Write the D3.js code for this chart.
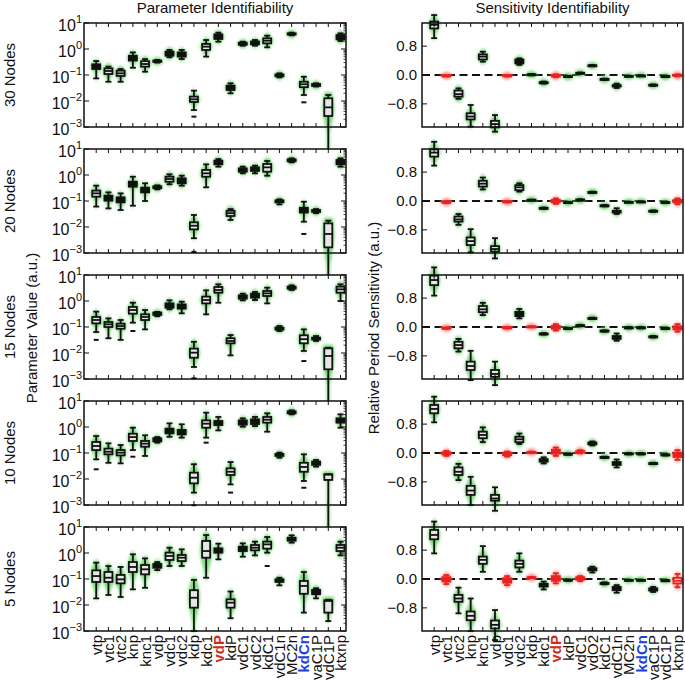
<!DOCTYPE html>
<html><head><meta charset="utf-8">
<script src="https://cdn.jsdelivr.net/npm/d3@7"></script>
<style>body{margin:0;background:#fff}svg{display:block}text{font-family:"Liberation Sans",Arial,sans-serif;fill:#111}</style>
</head><body><svg id="c" width="685" height="682"></svg>
<script>
// ---------------- data ----------------
const categoriesLeft = ["vtp","vtc1","vtc2","knp","knc1","vdp","vdc1","vdc2","kdp","kdc1","vdP","kdP","vdC1","vdC2","kdC1","vdC1n","MC2n","kdCn","vaC1P","vdC1P","ktxnp"];
const categoriesRight = ["vtp","vtc1","vtc2","knp","knc1","vdp","vdc1","vdc2","kdp","kdc1","vdP","kdP","vdC1","vdO2","kdC1","vdC1n","MC2n","kdCn","vaC1P","vdC1P","ktxnp"];
const rowLabels = ["30 Nodes","20 Nodes","15 Nodes","10 Nodes","5 Nodes"];
const logTickExps = [-3,-2,-1,0,1];
const sensTicks = [-0.8,0.0,0.8];
const sensTickLabels = ["\u22120.8","0.0","0.8"];

// box stats per category: [lowWhisker, q1, median, q3, highWhisker]
const param30 = [[0.074,0.17,0.21,0.257,0.345],[0.055,0.109,0.143,0.18,0.21],[0.055,0.092,0.116,0.147,0.17],[0.19,0.36,0.45,0.55,0.74],[0.134,0.21,0.265,0.34,0.41],[0.30,0.32,0.34,0.36,0.38],[0.48,0.55,0.68,0.79,0.92],[0.41,0.51,0.62,0.74,0.92],[0.0045,0.0092,0.0116,0.0147,0.025],[0.51,0.92,1.23,1.56,2.22],[1.91,2.43,2.98,3.66,4.25],[0.0197,0.0265,0.033,0.039,0.048],[1.34,1.45,1.60,1.75,1.91],[1.34,1.5,1.75,1.95,2.22],[1.16,1.65,2.09,2.57,3.26],[0.081,0.089,0.097,0.105,0.116],[3.36,3.6,3.8,4.0,4.25],[0.017,0.034,0.044,0.055,0.086],[0.036,0.038,0.041,0.045,0.048],[0.0001,0.00265,0.0057,0.0127,0.017],[2.03,2.35,2.81,3.45,4.0]];
const param20 = [[0.061,0.147,0.197,0.25,0.39],[0.052,0.103,0.134,0.16,0.215],[0.045,0.089,0.109,0.138,0.197],[0.066,0.356,0.45,0.55,0.86],[0.1,0.215,0.265,0.326,0.48],[0.28,0.31,0.336,0.37,0.40],[0.44,0.55,0.70,0.86,1.06],[0.39,0.48,0.6,0.74,0.94],[0.0037,0.0081,0.0112,0.0151,0.029],[0.336,0.86,1.16,1.56,2.57],[2.09,2.57,3.07,3.56,4.1],[0.0186,0.0265,0.034,0.042,0.049],[1.16,1.34,1.56,1.8,2.09],[1.16,1.43,1.70,1.97,2.29],[0.94,1.34,1.97,2.65,3.45],[0.074,0.089,0.097,0.106,0.116],[3.07,3.36,3.66,4.0,4.37],[0.016,0.036,0.044,0.055,0.094],[0.034,0.038,0.041,0.045,0.049],[0.0001,0.00165,0.0054,0.0138,0.0175],[2.09,2.57,3.07,3.78,4.37]];
const param15 = [[0.064,0.138,0.186,0.243,0.39],[0.037,0.1,0.127,0.156,0.215],[0.032,0.086,0.109,0.134,0.186],[0.147,0.326,0.45,0.59,0.86],[0.081,0.186,0.243,0.307,0.45],[0.26,0.29,0.33,0.36,0.38],[0.48,0.55,0.68,0.81,1.06],[0.336,0.51,0.6,0.74,0.94],[0.0029,0.0066,0.0103,0.0147,0.027],[0.307,0.81,1.09,1.47,2.57],[0.86,2.09,2.65,3.45,4.37],[0.0081,0.0236,0.029,0.037,0.049],[1.06,1.23,1.43,1.65,1.91],[1.09,1.34,1.65,1.91,2.22],[0.81,1.56,1.97,2.43,3.26],[0.070,0.079,0.086,0.095,0.109],[2.65,2.98,3.26,3.56,4.0],[0.012,0.0236,0.034,0.048,0.081],[0.029,0.033,0.036,0.039,0.045],[0.0001,0.00236,0.0077,0.0151,0.016],[1.0,2.09,2.81,3.56,4.37]];
const param10 = [[0.057,0.13,0.186,0.265,0.45],[0.042,0.089,0.112,0.147,0.236],[0.04,0.081,0.103,0.13,0.203],[0.13,0.29,0.41,0.55,0.94],[0.077,0.175,0.229,0.29,0.48],[0.25,0.28,0.316,0.37,0.41],[0.42,0.57,0.70,0.86,1.38],[0.39,0.52,0.64,0.77,1.27],[0.003,0.0068,0.0112,0.0175,0.037],[0.39,0.94,1.34,1.8,3.56],[0.74,1.19,1.43,1.70,2.43],[0.0062,0.0143,0.019,0.0257,0.045],[1.03,1.23,1.47,1.8,2.15],[1.09,1.3,1.6,1.97,2.43],[0.66,1.47,1.91,2.43,3.36],[0.066,0.077,0.084,0.092,0.103],[3.07,3.36,3.66,4.0,4.37],[0.0084,0.019,0.029,0.042,0.089],[0.030,0.035,0.04,0.047,0.054],[0.0001,0.0092,0.0148,0.0151,0.0151],[0.94,1.47,1.8,2.15,3.07]];
const param5 = [[0.018,0.077,0.13,0.215,0.425],[0.0243,0.077,0.112,0.186,0.316],[0.0203,0.068,0.097,0.143,0.29],[0.040,0.186,0.29,0.45,0.89],[0.046,0.151,0.236,0.345,0.62],[0.22,0.27,0.316,0.38,0.45],[0.316,0.54,0.77,1.03,1.6],[0.316,0.49,0.66,0.84,1.38],[0.001,0.0079,0.019,0.037,0.092],[0.112,0.66,1.19,2.9,4.9],[0.57,1.03,1.27,1.51,2.29],[0.0031,0.0079,0.0123,0.0165,0.033],[0.72,1.19,1.47,1.75,2.35],[0.81,1.27,1.6,2.03,2.73],[1.03,1.47,2.15,2.73,4.12],[0.057,0.077,0.089,0.097,0.112],[2.5,2.98,3.36,3.89,4.78],[0.0051,0.027,0.054,0.084,0.186],[0.018,0.026,0.033,0.038,0.044],[0.0024,0.0051,0.0143,0.0152,0.016],[0.81,1.19,1.6,2.03,2.73]];
// outliers: [row, category, value]
const paramOutliers = [[0,8,0.0025],[0,17,0.0089],[1,8,0.0011],[1,17,0.0054],[2,0,0.032],[2,3,0.07],[2,8,0.00106],[2,17,0.0049],[3,0,0.0236],[3,3,0.072],[3,8,0.00098],[3,9,0.25],[3,11,0.003],[3,17,0.0046],[4,14,0.316]];

const sens30 = [[1.02,1.29,1.39,1.48,1.66],[-0.04,-0.03,-0.02,-0.01,0.0],[-0.66,-0.60,-0.53,-0.43,-0.37],[-1.43,-1.23,-1.15,-1.06,-0.83],[0.37,0.43,0.51,0.57,0.645],[-1.57,-1.45,-1.36,-1.27,-1.11],[-0.04,-0.03,-0.02,-0.01,0.0],[0.28,0.32,0.38,0.43,0.46],[-0.01,0.0,0.01,0.02,0.03],[-0.24,-0.22,-0.21,-0.20,-0.18],[-0.06,-0.04,-0.02,0.0,0.02],[-0.06,-0.05,-0.04,-0.03,-0.02],[0.03,0.04,0.05,0.06,0.07],[0.24,0.25,0.26,0.27,0.28],[-0.14,-0.13,-0.12,-0.11,-0.10],[-0.36,-0.32,-0.30,-0.28,-0.24],[-0.04,-0.035,-0.03,-0.025,-0.02],[-0.03,-0.025,-0.02,-0.015,-0.01],[-0.30,-0.29,-0.28,-0.27,-0.26],[-0.06,-0.05,-0.04,-0.03,-0.02],[-0.04,-0.02,-0.01,0.0,0.02]];
const sens20 = [[0.98,1.23,1.34,1.43,1.64],[-0.06,-0.04,-0.03,-0.02,0.0],[-0.66,-0.57,-0.51,-0.43,-0.36],[-1.42,-1.22,-1.11,-1.01,-0.78],[0.32,0.40,0.48,0.56,0.65],[-1.59,-1.40,-1.33,-1.25,-1.03],[-0.04,-0.03,-0.02,-0.01,0.0],[0.26,0.30,0.38,0.44,0.49],[0.01,0.02,0.03,0.035,0.04],[-0.22,-0.21,-0.2,-0.19,-0.18],[-0.08,-0.04,0.0,0.03,0.07],[-0.06,-0.05,-0.04,-0.03,-0.02],[0.01,0.02,0.03,0.04,0.05],[0.22,0.23,0.24,0.25,0.26],[-0.15,-0.14,-0.13,-0.12,-0.11],[-0.36,-0.32,-0.30,-0.27,-0.20],[-0.04,-0.035,-0.03,-0.025,-0.02],[-0.03,-0.025,-0.02,-0.015,-0.01],[-0.30,-0.29,-0.28,-0.27,-0.26],[-0.06,-0.05,-0.04,-0.03,-0.02],[-0.09,-0.04,-0.01,0.03,0.07]];
const sens15 = [[0.87,1.16,1.30,1.42,1.65],[-0.05,-0.04,-0.03,-0.02,-0.01],[-0.68,-0.59,-0.50,-0.41,-0.33],[-1.47,-1.19,-1.08,-0.96,-0.66],[0.33,0.41,0.49,0.58,0.67],[-1.61,-1.38,-1.30,-1.19,-0.96],[-0.04,-0.03,-0.02,-0.01,0.0],[0.24,0.30,0.37,0.42,0.50],[0.0,0.005,0.01,0.015,0.02],[-0.21,-0.2,-0.19,-0.18,-0.17],[-0.1,-0.05,-0.01,0.03,0.08],[-0.06,-0.05,-0.04,-0.03,-0.02],[0.02,0.03,0.04,0.05,0.06],[0.22,0.23,0.24,0.25,0.26],[-0.13,-0.12,-0.11,-0.10,-0.09],[-0.38,-0.33,-0.29,-0.25,-0.18],[-0.04,-0.03,-0.02,-0.01,0.0],[-0.04,-0.03,-0.02,-0.01,0.0],[-0.29,-0.28,-0.27,-0.26,-0.25],[-0.06,-0.05,-0.04,-0.03,-0.02],[-0.13,-0.07,-0.03,0.02,0.08]];
const sens10 = [[0.85,1.10,1.22,1.33,1.56],[-0.08,-0.04,-0.01,0.02,0.06],[-0.75,-0.61,-0.52,-0.40,-0.30],[-1.44,-1.16,-1.04,-0.91,-0.66],[0.30,0.41,0.50,0.59,0.71],[-1.6,-1.32,-1.26,-1.16,-0.95],[-0.1,-0.06,-0.03,0.01,0.04],[0.25,0.30,0.38,0.45,0.54],[0.0,0.01,0.02,0.03,0.04],[-0.29,-0.24,-0.21,-0.17,-0.12],[-0.08,-0.02,0.05,0.09,0.15],[-0.05,-0.04,-0.03,-0.02,-0.01],[-0.01,0.02,0.04,0.05,0.08],[0.21,0.24,0.27,0.29,0.32],[-0.14,-0.13,-0.12,-0.11,-0.10],[-0.40,-0.33,-0.29,-0.25,-0.18],[-0.04,-0.03,-0.02,-0.01,0.0],[-0.04,-0.03,-0.02,-0.01,0.0],[-0.31,-0.30,-0.29,-0.28,-0.27],[-0.07,-0.06,-0.05,-0.04,-0.03],[-0.19,-0.11,-0.05,0.01,0.08]];
const sens5 = [[0.71,1.10,1.22,1.36,1.59],[-0.14,-0.07,0.0,0.05,0.11],[-0.95,-0.63,-0.54,-0.44,-0.24],[-1.44,-1.14,-1.02,-0.90,-0.54],[0.20,0.42,0.53,0.62,0.91],[-1.69,-1.37,-1.27,-1.15,-0.86],[-0.17,-0.1,-0.05,0.02,0.08],[0.20,0.32,0.42,0.51,0.71],[0.02,0.03,0.04,0.05,0.06],[-0.29,-0.21,-0.17,-0.13,-0.07],[-0.12,-0.05,0.02,0.08,0.16],[-0.05,-0.04,-0.03,-0.02,-0.01],[-0.06,-0.02,0.02,0.05,0.08],[0.18,0.24,0.27,0.30,0.34],[-0.15,-0.13,-0.12,-0.11,-0.09],[-0.38,-0.31,-0.26,-0.22,-0.17],[-0.04,-0.035,-0.03,-0.025,-0.02],[-0.04,-0.035,-0.03,-0.025,-0.02],[-0.36,-0.32,-0.29,-0.26,-0.22],[-0.05,-0.045,-0.04,-0.035,-0.03],[-0.23,-0.12,-0.05,0.03,0.14]];
// categories drawn in red (non-significant sensitivity) per row
const sensRed = [[1,6,10,20],[1,6,10,20],[1,6,8,10,20],[1,6,8,10,12,20],[1,6,8,10,12,20]];

const paramRows = [param30,param20,param15,param10,param5];
const sensRows = [sens30,sens20,sens15,sens10,sens5];

// ---------------- layout ----------------
const svg = d3.select("#c");
const panelTop = i => 23 + 126*i, panelH = 104;
const LX = [84,346], RX = [422,683];
const xL = d3.scaleLinear().domain([-1,20.45]).range(LX);
const xR = d3.scaleLinear().domain([-1,20.45]).range(RX);
const BLACK = "#111", RED = "#e8231f";

const defs = svg.append("defs");
defs.append("filter").attr("id","blur").attr("x","-200%").attr("y","-50%").attr("width","500%").attr("height","200%")
  .append("feGaussianBlur").attr("stdDeviation",1.4);

function violin(g, xc, y, s, fill){
  const [lo,q1,md,q3,hi] = s;
  const yTop = y(hi)-3, yBot = y(lo)+3, ym = y(md);
  const sd = Math.max(2.5, (y(q1)-y(q3))*0.85);
  const n = 60, pts = [];
  for(let k=0;k<=n;k++){
    const t = yTop + (yBot-yTop)*k/n;
    let hw = 6*Math.exp(-0.5*Math.pow((t-ym)/sd,2));
    if(t>=y(hi) && t<=y(lo)) hw = Math.max(hw,1.4);
    else hw = Math.max(hw,0.5);
    pts.push([t,hw]);
  }
  g.append("path").datum(pts)
    .attr("d", d3.area().y(d=>d[0]).x0(d=>xc-d[1]).x1(d=>xc+d[1]).curve(d3.curveBasis))
    .attr("fill", fill).attr("opacity",0.85).attr("filter","url(#blur)");
}

function boxplot(g, xc, y, s, color){
  const [lo,q1,md,q3,hi] = s;
  const bw = 4, cw = 3, sw = 1.8;
  const gg = g.append("g").attr("stroke",color).attr("stroke-width",sw);
  gg.append("line").attr("x1",xc).attr("x2",xc).attr("y1",y(q3)).attr("y2",y(hi));
  gg.append("line").attr("x1",xc).attr("x2",xc).attr("y1",y(q1)).attr("y2",y(lo));
  gg.append("line").attr("x1",xc-cw).attr("x2",xc+cw).attr("y1",y(hi)).attr("y2",y(hi));
  gg.append("line").attr("x1",xc-cw).attr("x2",xc+cw).attr("y1",y(lo)).attr("y2",y(lo));
  const h = y(q1)-y(q3);
  gg.append("rect").attr("x",xc-bw).attr("width",2*bw).attr("y",y(q3)).attr("height",Math.max(1,h))
    .attr("fill", h < 5 ? color : "#e6e6e6");
  gg.append("line").attr("x1",xc-bw).attr("x2",xc+bw).attr("y1",y(md)).attr("y2",y(md));
}

function xTicks(g, x, top){
  d3.range(21).forEach(i=>{
    g.append("line").attr("x1",x(i)).attr("x2",x(i)).attr("y1",top).attr("y2",top+4).attr("stroke",BLACK).attr("stroke-width",1);
    g.append("line").attr("x1",x(i)).attr("x2",x(i)).attr("y1",top+panelH).attr("y2",top+panelH-4).attr("stroke",BLACK).attr("stroke-width",1);
  });
}

function frame(g, X, top){
  g.append("rect").attr("x",X[0]).attr("y",top).attr("width",X[1]-X[0]).attr("height",panelH)
    .attr("fill","none").attr("stroke",BLACK).attr("stroke-width",1.5);
}

rowLabels.forEach((lab,i)=>{
  const top = panelTop(i);
  // ---------- left: parameter values ----------
  const y = d3.scaleLog().domain([1e-3,1e1]).range([top+panelH, top]);
  const gl = svg.append("g");
  gl.append("rect").attr("x",LX[0]).attr("y",top).attr("width",LX[1]-LX[0]).attr("height",panelH).attr("fill","#fff");
  paramRows[i].forEach((s,j)=> violin(gl, xL(j), y, s, "#5fd35f"));
  paramRows[i].forEach((s,j)=> boxplot(gl, xL(j), y, s, BLACK));
  paramOutliers.filter(o=>o[0]===i).forEach(o=>{
    gl.append("line").attr("x1",xL(o[1])-2.5).attr("x2",xL(o[1])+2.5).attr("y1",y(o[2])).attr("y2",y(o[2]))
      .attr("stroke",BLACK).attr("stroke-width",2);
  });
  frame(gl, LX, top);
  xTicks(gl, xL, top);
  logTickExps.forEach(e=>{
    const v = Math.pow(10,e), yy = y(v);
    gl.append("line").attr("x1",LX[0]).attr("x2",LX[0]+5).attr("y1",yy).attr("y2",yy).attr("stroke",BLACK);
    gl.append("line").attr("x1",LX[1]).attr("x2",LX[1]-5).attr("y1",yy).attr("y2",yy).attr("stroke",BLACK);
    const t = gl.append("text").attr("x",82).attr("y",yy+7.5).attr("text-anchor","end").attr("font-size",16);
    t.append("tspan").text("10");
    t.append("tspan").attr("dy",-7.5).attr("font-size",11).text(String(e).replace("-","\u2212"));
    if(e<1) d3.range(2,10).forEach(m=>{
      const ym = y(m*v);
      gl.append("line").attr("x1",LX[1]).attr("x2",LX[1]-2.5).attr("y1",ym).attr("y2",ym).attr("stroke",BLACK).attr("stroke-width",0.8);
    });
  });
  svg.append("text").attr("transform",`translate(15,${top+panelH/2}) rotate(-90)`).attr("text-anchor","middle")
    .attr("font-size",15).text(lab);

  // ---------- right: sensitivities ----------
  const ys = d3.scaleLinear().domain([-1.44,1.44]).range([top+panelH, top]);
  const gr = svg.append("g");
  gr.append("rect").attr("x",RX[0]).attr("y",top).attr("width",RX[1]-RX[0]).attr("height",panelH).attr("fill","#fff");
  gr.append("line").attr("x1",RX[0]).attr("x2",RX[1]).attr("y1",ys(0)).attr("y2",ys(0))
    .attr("stroke",BLACK).attr("stroke-width",2).attr("stroke-dasharray","8,4.5");
  sensRows[i].forEach((s,j)=>{
    const red = sensRed[i].includes(j);
    violin(gr, xR(j), ys, s, red ? "#ff7a7a" : "#5fd35f");
  });
  sensRows[i].forEach((s,j)=>{
    const red = sensRed[i].includes(j);
    boxplot(gr, xR(j), ys, s, red ? RED : BLACK);
  });
  frame(gr, RX, top);
  xTicks(gr, xR, top);
  sensTicks.forEach((v,k)=>{
    gr.append("line").attr("x1",RX[0]).attr("x2",RX[0]+5).attr("y1",ys(v)).attr("y2",ys(v)).attr("stroke",BLACK);
    gr.append("text").attr("x",417).attr("y",ys(v)+5).attr("text-anchor","end").attr("font-size",15).text(sensTickLabels[k]);
  });
});

// ---------- x labels on bottom row ----------
const bottom = panelTop(4)+panelH;
function xLabels(cats, x){
  cats.forEach((c,j)=>{
    const t = svg.append("text").attr("transform",`translate(${x(j)+5.5},${bottom+4}) rotate(-90)`)
      .attr("text-anchor","end").attr("font-size",15).text(c);
    if(c==="vdP"){ t.style("fill","#d42a1a").attr("font-weight","bold"); }
    if(c==="kdCn"){ t.style("fill","#2040e0").attr("font-weight","bold"); }
  });
}
xLabels(categoriesLeft, xL);
xLabels(categoriesRight, xR);

// ---------- titles ----------
svg.append("text").attr("x",(LX[0]+LX[1])/2).attr("y",13).attr("text-anchor","middle").attr("font-size",15).text("Parameter Identifiability");
svg.append("text").attr("x",(RX[0]+RX[1])/2).attr("y",13).attr("text-anchor","middle").attr("font-size",15).text("Sensitivity Identifiability");
svg.append("text").attr("transform","translate(37,328) rotate(-90)").attr("text-anchor","middle").attr("font-size",15).text("Parameter Value (a.u.)");
svg.append("text").attr("transform","translate(379,328) rotate(-90)").attr("text-anchor","middle").attr("font-size",15).text("Relative Period Sensitivity (a.u.)");
</script></body></html>
